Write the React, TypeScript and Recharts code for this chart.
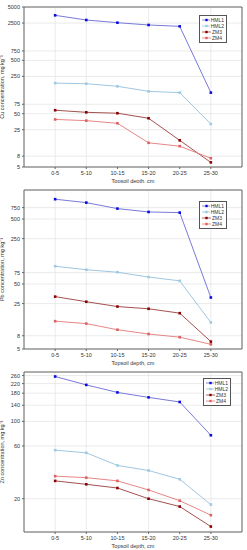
import {
  LineChart,
  Line,
  XAxis,
  YAxis,
  CartesianGrid,
  ReferenceArea,
  Legend,
} from "recharts";

const depths = ["0-5", "5-10", "10-15", "15-20", "20-25", "25-30"];
const seriesNames = ["HML1", "HML2", "ZM3", "ZM4"];

const cuHML1 = [3490, 2850, 2540, 2300, 2170, 124];
const cuHML2 = [187, 182, 163, 131, 124, 32];
const cuZM3 = [58, 53, 51, 41, 15.8, 6.1];
const cuZM4 = [39, 37, 33, 14.2, 12.3, 7.3];
const cuTicks = [5, 8, 25, 50, 75, 250, 500, 750, 2500, 5000];

const pbHML1 = [1010, 895, 724, 643, 628, 31];
const pbHML2 = [94, 83, 76, 64, 56, 12.8];
const pbZM3 = [32, 26.7, 22.5, 20.8, 17.8, 6.5];
const pbZM4 = [13.4, 12.3, 9.9, 8.5, 7.6, 5.9];
const pbTicks = [5, 8, 25, 50, 75, 250, 500, 750];

const znHML1 = [255, 214, 183, 165, 150, 75];
const znHML2 = [55, 52, 40, 36, 30, 17.7];
const znZM3 = [29, 27, 25, 20, 17, 11.2];
const znZM4 = [32, 31, 29, 24, 19.2, 14.2];
const znTicks = [20, 60, 100, 140, 180, 220, 260];

const lineColors = ["#6a6ad6", "#94c0dc", "#9a3c3c", "#e47878"];
const dotColors = ["#0a0ae0", "#9ccbe4", "#8b0000", "#e06060"];

const font = "'Liberation Sans', Arial, sans-serif";

function buildRows(values: number[][]) {
  return depths.map((d, i) => ({
    i,
    depth: d,
    HML1: values[0][i],
    HML2: values[1][i],
    ZM3: values[2][i],
    ZM4: values[3][i],
  }));
}

const SquareDot = (color: string) => (props: any) => {
  const { cx, cy } = props;
  if (cx == null || cy == null) return null;
  return <rect x={cx - 1.3} y={cy - 1.3} width={2.6} height={2.6} fill={color} />;
};

function LegendBox() {
  return (
    <div
      style={{
        border: "1px solid #555",
        background: "#fff",
        padding: "1px 2px",
        fontFamily: font,
        fontSize: 5,
        lineHeight: "6px",
        color: "#333",
      }}
    >
      {seriesNames.map((n, k) => (
        <div key={n} style={{ display: "flex", alignItems: "center" }}>
          <svg width={9} height={6}>
            <line x1={0} y1={3} x2={9} y2={3} stroke={lineColors[k]} strokeWidth={0.8} />
            <rect x={3.3} y={1.8} width={2.4} height={2.4} fill={dotColors[k]} />
          </svg>
          <span style={{ marginLeft: 1 }}>{n}</span>
        </div>
      ))}
    </div>
  );
}

interface PanelProps {
  top: number;
  height: number;
  plotBottomPad: number;
  values: number[][];
  domain: [number, number];
  ticks: number[];
  yLabel: string;
  legendPos: { left: number; top: number; width: number };
}

function Panel({ top, height, plotBottomPad, values, domain, ticks, yLabel, legendPos }: PanelProps) {
  const rows = buildRows(values);
  const tickStyle = { fontSize: 5.5, fill: "#333", fontFamily: font };
  return (
    <div style={{ position: "absolute", left: 0, top }}>
      <LineChart
        width={247}
        height={height}
        data={rows}
        margin={{ top: 7, right: 5, bottom: plotBottomPad, left: 0 }}
      >
        <CartesianGrid stroke="#e2e2e2" strokeWidth={0.7} />
        <XAxis
          dataKey="i"
          type="number"
          domain={[-1, 6]}
          ticks={[0, 1, 2, 3, 4, 5]}
          tickFormatter={(v: number) => depths[v]}
          tick={tickStyle}
          tickSize={2}
          height={16}
          stroke="#666"
          axisLine={false}
          label={{
            value: "Topsoil depth, cm",
            position: "insideBottom",
            offset: 0,
            style: { fontSize: 5.5, fill: "#333", fontFamily: font },
          }}
        />
        <YAxis
          scale="log"
          domain={domain}
          ticks={ticks}
          allowDataOverflow
          interval={0}
          tick={tickStyle}
          tickSize={2}
          width={24}
          stroke="#666"
          axisLine={false}
          label={{
            value: yLabel,
            angle: -90,
            position: "insideLeft",
            offset: 2,
            style: { fontSize: 5.5, fill: "#333", fontFamily: font, textAnchor: "middle" },
          }}
        />
        <ReferenceArea
          x1={-1}
          x2={6}
          y1={domain[0]}
          y2={domain[1]}
          fill="none"
          stroke="#666"
          strokeWidth={1}
          ifOverflow="visible"
        />
        {seriesNames.map((n, k) => (
          <Line
            key={n}
            dataKey={n}
            stroke={lineColors[k]}
            strokeWidth={0.9}
            dot={SquareDot(dotColors[k])}
            isAnimationActive={false}
          />
        ))}
        <Legend
          layout="vertical"
          align="center"
          verticalAlign="middle"
          wrapperStyle={{ left: legendPos.left, top: legendPos.top, width: legendPos.width }}
          content={() => <LegendBox />}
        />
      </LineChart>
    </div>
  );
}

export default function App() {
  return (
    <div style={{ position: "absolute", left: 0, top: 0, width: 247, height: 550, background: "#fff" }}>
      <Panel
        top={0}
        height={183}
        plotBottomPad={0}
        values={[cuHML1, cuHML2, cuZM3, cuZM4]}
        domain={[5, 5000]}
        ticks={cuTicks}
        yLabel="Cu concentration, mg kg⁻¹"
        legendPos={{ left: 199, top: 15, width: 28 }}
      />
      <Panel
        top={183}
        height={183}
        plotBottomPad={1}
        values={[pbHML1, pbHML2, pbZM3, pbZM4]}
        domain={[5, 1400]}
        ticks={pbTicks}
        yLabel="Pb concentration, mg kg⁻¹"
        legendPos={{ left: 199, top: 18, width: 28 }}
      />
      <Panel
        top={365}
        height={185}
        plotBottomPad={2}
        values={[znHML1, znHML2, znZM3, znZM4]}
        domain={[10, 280]}
        ticks={znTicks}
        yLabel="Zn concentration, mg kg⁻¹"
        legendPos={{ left: 203, top: 13, width: 28 }}
      />
    </div>
  );
}
